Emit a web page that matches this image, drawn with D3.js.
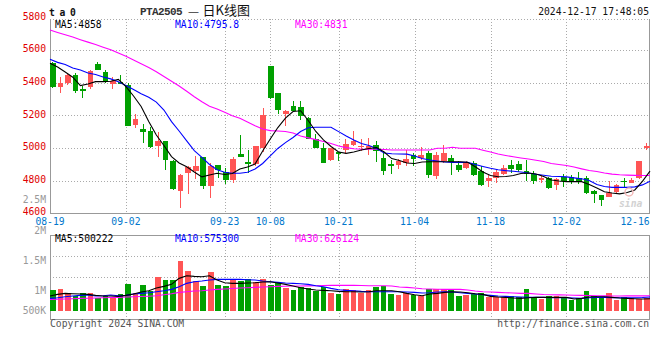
<!DOCTYPE html>
<html><head><meta charset="utf-8">
<script src="https://cdn.jsdelivr.net/npm/d3@7/dist/d3.min.js"></script>
<style>
body{margin:0;background:#fff}
svg{display:block}
text{font-family:"DejaVu Sans Mono",monospace;font-size:9.7px}
</style>
</head><body>
<svg id="c" width="660" height="360"></svg>
<script>
// ---------- data ----------
const dates = ["08-19","08-20","08-21","08-22","08-23","08-26","08-27","08-28","08-29","08-30",
"09-02","09-03","09-04","09-05","09-06","09-09","09-10","09-11","09-12","09-13",
"09-18","09-19","09-20","09-23","09-24","09-25","09-26","09-27","09-30","10-08",
"10-09","10-10","10-11","10-14","10-15","10-16","10-17","10-18","10-21","10-22",
"10-23","10-24","10-25","10-28","10-29","10-30","10-31","11-01","11-04","11-05",
"11-06","11-07","11-08","11-11","11-12","11-13","11-14","11-15","11-18","11-19",
"11-20","11-21","11-22","11-25","11-26","11-27","11-28","11-29","12-02","12-03",
"12-04","12-05","12-06","12-09","12-10","12-11","12-12","12-13","12-16","12-17"];
const tickDates = ["08-19","09-02","09-23","10-08","10-21","11-04","11-18","12-02","12-16"];
const priceTicks = [4600,4800,5000,5200,5400,5600,5800];
const volTickLabels = ["500K","1M","1.5M","2M","2.5M"];
const volTickValues = [500,1000,1500,2000,2500];

const open  = [5519,5373,5398,5445,5363,5371,5512,5467,5392,5406,5388,5139,5114,5102,5010,5043,4919,4735,4847,4857,
4945,4768,4898,4851,4802,4961,4912,4900,5002,5500,5335,5208,5255,5249,5182,5053,5000,4925,4976,4986,
5020,5004,4996,5020,4939,4899,4895,4909,4954,4939,4968,4828,4919,4939,4893,4875,4909,4857,4796,4818,
4842,4893,4899,4859,4842,4810,4818,4772,4822,4822,4818,4818,4737,4711,4701,4731,4800,4788,4818,5008];
const high  = [5526,5435,5457,5461,5380,5478,5528,5476,5437,5445,5398,5206,5145,5131,5100,5043,4925,4839,4890,4949,
4945,4906,4898,4876,4943,5078,4986,5010,5247,5500,5335,5233,5290,5286,5190,5084,5033,5000,4976,5053,
5101,5055,5061,5044,4974,4925,4933,4990,4970,5006,4980,4974,5020,4960,4919,4923,4919,4889,4832,4873,
4893,4929,4923,4929,4859,4832,4822,4818,4842,4832,4853,4828,4741,4711,4798,4778,4818,4818,4923,5030];
const low   = [5370,5335,5386,5339,5304,5363,5475,5400,5359,5390,5132,5121,5029,4998,4945,4866,4741,4631,4719,4808,
4747,4692,4815,4782,4784,4943,4845,4890,4976,5298,5206,5135,5227,5174,5057,5000,4908,4919,4919,4962,
5010,4980,4956,4913,4834,4840,4873,4889,4889,4925,4814,4808,4909,4832,4855,4869,4828,4768,4762,4784,
4836,4848,4853,4798,4778,4784,4747,4743,4762,4778,4778,4717,4663,4646,4697,4727,4764,4784,4812,4985];
const close = [5376,5400,5445,5347,5347,5469,5475,5404,5412,5392,5137,5176,5098,5004,5041,4925,4747,4835,4882,4888,
4768,4890,4866,4802,4931,4947,4908,5010,5200,5304,5231,5225,5227,5196,5057,5000,4908,5000,4963,5023,
5040,5014,5010,4980,4859,4889,4919,4935,4935,4954,4834,4960,4970,4913,4863,4909,4834,4774,4814,4852,
4879,4869,4863,4842,4798,4814,4752,4812,4798,4798,4798,4727,4721,4683,4727,4774,4796,4802,4919,5010];

const ma5  = [5518,5496,5465,5433,5382,5392,5406,5406,5408,5420,5376,5318,5254,5162,5079,5015,4947,4908,4885,4853,
4823,4834,4845,4838,4844,4871,4883,4902,4981,5055,5125,5183,5223,5228,5168,5101,5049,5009,4975,4967,
4975,4988,4997,5002,4975,4935,4923,4908,4905,4914,4916,4916,4916,4916,4916,4912,4885,4853,4831,4824,
4825,4831,4844,4847,4841,4825,4804,4798,4794,4794,4794,4776,4755,4732,4724,4719,4727,4743,4795,4858];
const ma10 = [5543,5524,5511,5490,5477,5459,5450,5434,5423,5405,5382,5358,5332,5311,5281,5232,5161,5104,5043,4984,
4942,4899,4867,4851,4845,4845,4851,4871,4905,4951,4997,5033,5064,5101,5124,5127,5127,5127,5100,5073,
5049,5027,5015,4997,4969,4965,4963,4962,4951,4935,4926,4920,4914,4912,4912,4912,4899,4887,4876,4867,
4861,4857,4853,4847,4839,4833,4827,4825,4823,4817,4811,4801,4776,4764,4759,4759,4759,4762,4774,4796];
const ma30 = [5722,5707,5693,5679,5663,5648,5633,5617,5601,5581,5561,5538,5515,5492,5467,5438,5409,5379,5347,5314,
5283,5256,5238,5218,5197,5182,5159,5136,5116,5106,5104,5101,5092,5073,5062,5051,5040,5027,5012,5002,
4995,4992,4992,4992,4991,4988,4988,4988,4988,4988,4988,4998,4998,5004,4998,4998,4998,4986,4975,4963,
4954,4946,4939,4932,4925,4917,4905,4899,4893,4883,4872,4862,4856,4847,4840,4836,4834,4832,4831,4831];

// volume in thousands
const volume = [868,910,728,630,728,742,518,630,518,700,1120,728,1078,840,1414,1288,1288,2100,1666,1246,
1036,1624,1078,1036,1316,1246,1316,1218,1330,1078,1176,966,868,1008,938,840,980,756,700,910,
868,756,868,1008,1050,700,658,756,658,630,896,896,896,896,616,658,700,756,588,560,
560,616,560,910,560,490,616,616,560,448,518,826,630,588,742,448,588,518,490,518];
const vma5  = [616,686,728,714,700,686,644,616,616,602,644,700,784,840,952,1022,1106,1358,1470,1442,
1428,1470,1288,1176,1148,1148,1162,1176,1204,1218,1162,1106,1036,966,910,868,854,840,812,798,
798,784,798,840,840,840,798,728,672,630,700,728,770,798,784,756,714,686,602,574,
560,532,518,546,560,560,560,560,560,490,518,574,588,588,560,532,518,504,490,500];
const vma10 = [518,546,588,616,644,658,616,630,658,630,644,700,728,756,798,840,896,1008,1148,1218,
1246,1288,1316,1316,1316,1316,1302,1288,1246,1218,1190,1162,1148,1134,1106,1050,1008,938,882,854,
840,812,798,798,798,798,798,784,770,742,756,784,798,784,756,728,700,672,644,616,
602,588,574,560,560,560,546,546,546,532,518,546,560,560,546,546,546,546,552,575];
const vma30 = [476,483,490,504,518,525,532,546,553,560,574,588,595,609,630,672,714,770,798,826,
840,868,896,910,931,952,966,980,994,1008,1022,1029,1036,1036,1043,1050,1057,1064,1064,1064,
1064,1057,1050,1050,1050,1036,994,980,952,924,910,903,896,896,896,868,826,798,784,770,
756,742,728,728,700,679,672,665,658,651,644,637,630,623,620,620,621,622,624,626];

const legendPrice = [["MA5:4858","#000"],["MA10:4795.8","#0000ff"],["MA30:4831","#ff00ff"]];
const legendVol = [["MA5:500222","#000"],["MA10:575300","#0000ff"],["MA30:626124","#ff00ff"]];

// ---------- layout ----------
const L = 50, R = 649.5;
const pTop = 19, pBot = 213.3;
const vTop = 234.7, vBot = 318.3;
const UP = "#ff5555", DOWN = "#00a000", GRID = "#aaaaaa", BORDER = "#999999";

const svg = d3.select("#c");
svg.append("rect").attr("width",660).attr("height",360).attr("fill","#fff");

const xBand = d3.scaleBand().domain(dates).range([L, R]).paddingInner(0.24).paddingOuter(0).align(0);
const xLine = d3.scaleLinear().domain([0, dates.length-1]).range([L, 650]);
const yP = d3.scaleLinear().domain([4600, 5800]).range([pBot, 17.3]);
const yV = d3.scaleLinear().domain([0, 3200]).range([310.7, 234.5]);
const yVLab = d3.scaleLinear().domain([1000, 2000]).range([290.7, 230]);
const bw = xBand.bandwidth();
const idx = d => dates.indexOf(d);

// ---------- grid ----------
const g = svg.append("g").attr("shape-rendering","crispEdges");
g.selectAll(".hp").data(priceTicks.filter(v => v > 4600 && v < 5800)).join("line")
  .attr("x1",L).attr("x2",R).attr("y1",d=>Math.round(yP(d))+0.5).attr("y2",d=>Math.round(yP(d))+0.5)
  .attr("stroke",GRID).attr("stroke-dasharray","1,2");
g.append("line").attr("x1",L).attr("x2",R).attr("y1",pTop+0.5).attr("y2",pTop+0.5)
  .attr("stroke",GRID).attr("stroke-dasharray","1,2");
const vt = tickDates.filter(d => d !== dates[0] && idx(d) < dates.length-2);
g.selectAll(".vp").data(vt).join("line")
  .attr("x1",d=>Math.round(xLine(idx(d)))+0.5).attr("x2",d=>Math.round(xLine(idx(d)))+0.5)
  .attr("y1",pTop).attr("y2",pBot).attr("stroke",GRID).attr("stroke-dasharray","1,2");
g.selectAll(".vv").data(vt).join("line")
  .attr("x1",d=>Math.round(xLine(idx(d)))+0.5).attr("x2",d=>Math.round(xLine(idx(d)))+0.5)
  .attr("y1",vTop).attr("y2",vBot).attr("stroke",GRID).attr("stroke-dasharray","1,2");
g.selectAll(".hv").data([0.25,0.5]).join("line")
  .attr("x1",L).attr("x2",R)
  .attr("y1",d=>Math.round(vTop+(vBot-vTop)*d)+0.5).attr("y2",d=>Math.round(vTop+(vBot-vTop)*d)+0.5)
  .attr("stroke",GRID).attr("stroke-dasharray","1,2");
g.append("path").attr("d",`M${L+0.5},${pTop}V${Math.round(pBot)+0.5}H${R}V${pTop}`)
  .attr("fill","none").attr("stroke",BORDER);
g.append("rect").attr("x",L+0.5).attr("y",Math.round(vTop)+0.5).attr("width",R-L-0.5).attr("height",Math.round(vBot-vTop))
  .attr("fill","none").attr("stroke",BORDER);

// ---------- candles ----------
const cg = svg.append("g").attr("shape-rendering","crispEdges");
const col = i => close[i] >= open[i] ? UP : DOWN;
cg.selectAll(".wick").data(dates).join("line")
  .attr("x1",d=>Math.floor(xBand(d)+bw/2)+0.5).attr("x2",d=>Math.floor(xBand(d)+bw/2)+0.5)
  .attr("y1",(d,i)=>yP(high[i])).attr("y2",(d,i)=>yP(low[i]))
  .attr("stroke",(d,i)=>col(i));
cg.selectAll(".body").data(dates).join("rect")
  .attr("x",d=>xBand(d)).attr("width",bw)
  .attr("y",(d,i)=>yP(Math.max(open[i],close[i])))
  .attr("height",(d,i)=>Math.max(1.2, Math.abs(yP(open[i])-yP(close[i]))))
  .attr("fill",(d,i)=>col(i));

// ---------- price MAs ----------
const lineP = d3.line().x((d,i)=>xLine(i)).y(d=>yP(d));
[[ma30,"#ff00ff"],[ma10,"#0000ff"],[ma5,"#000"]].forEach(([a,c])=>{
  svg.append("path").attr("d",lineP(a)).attr("fill","none").attr("stroke",c).attr("stroke-width",1.1);
});

// ---------- volume ----------
svg.append("g").attr("shape-rendering","crispEdges").selectAll("rect").data(dates).join("rect")
  .attr("x",d=>xBand(d)).attr("width",bw)
  .attr("y",(d,i)=>yV(volume[i])).attr("height",(d,i)=>yV(0)-yV(volume[i]))
  .attr("fill",(d,i)=>col(i));
const lineV = d3.line().x((d,i)=>xLine(i)).y(d=>yV(d));
[[vma30,"#ff00ff"],[vma10,"#0000ff"],[vma5,"#000"]].forEach(([a,c])=>{
  svg.append("path").attr("d",lineV(a)).attr("fill","none").attr("stroke",c).attr("stroke-width",1.1);
});

// ---------- texts ----------
svg.selectAll(".pl").data(priceTicks).join("text")
  .attr("x",46).attr("y",d=>Math.min(yP(d)+2.2, 215)).attr("text-anchor","end").attr("fill","#e00000").text(d=>d);
svg.selectAll(".dl").data(tickDates).join("text")
  .attr("x",d=>Math.min(xLine(idx(d)), 650-15)).attr("y",224.8).attr("text-anchor","middle")
  .attr("fill","#0077cc").text(d=>d);
svg.selectAll(".vl").data(volTickValues).join("text")
  .attr("x",46).attr("y",d=>Math.min(yVLab(d),310)+3.6).attr("text-anchor","end")
  .attr("fill","#999").text((d,i)=>volTickLabels[i]);
const lx = [55,175,295];
svg.selectAll(".lp").data(legendPrice).join("text")
  .attr("x",(d,i)=>lx[i]).attr("y",27.6).attr("fill",d=>d[1]).text(d=>d[0]);
svg.selectAll(".lv").data(legendVol).join("text")
  .attr("x",(d,i)=>lx[i]).attr("y",242.2).attr("fill",d=>d[1]).text(d=>d[0]);
svg.append("text").attr("x",49).attr("y",15.5).attr("font-weight","bold").attr("font-size","12px")
  .attr("fill","#111").attr("letter-spacing","-0.6").text("t a 0");
const ht = svg.append("text").attr("x",140).attr("y",14.5).attr("fill","#333");
ht.append("tspan").attr("font-family","Liberation Mono").attr("font-weight","bold").attr("font-size","11px")
  .attr("letter-spacing","-0.6").text("PTA2505 ");
ht.append("tspan").attr("font-family","DejaVu Sans").attr("font-size","11px").text("\u2014 ");
ht.append("tspan").attr("font-family","Noto Sans CJK SC").attr("font-size","13px").attr("fill","#111").text("日K线图");
svg.append("text").attr("x",649).attr("y",15).attr("text-anchor","end").attr("fill","#111")
  .text("2024-12-17 17:48:05");
svg.append("text").attr("x",50).attr("y",326.8).attr("fill","#555").text("Copyright 2024 SINA.COM");
svg.append("text").attr("x",649).attr("y",327).attr("text-anchor","end").attr("fill","#555").text("http://finance.sina.com.cn");
svg.append("circle").attr("cx",629).attr("cy",192).attr("r",4).attr("fill","none").attr("stroke","#f2b8b8").attr("stroke-width",1.5);
svg.append("text").attr("x",619).attr("y",207).attr("font-family","DejaVu Sans").attr("font-style","italic")
  .attr("font-weight","bold").attr("font-size","16px").attr("fill","#c8c8c8").attr("opacity",0.8).text("sina");
</script>
</body></html>
